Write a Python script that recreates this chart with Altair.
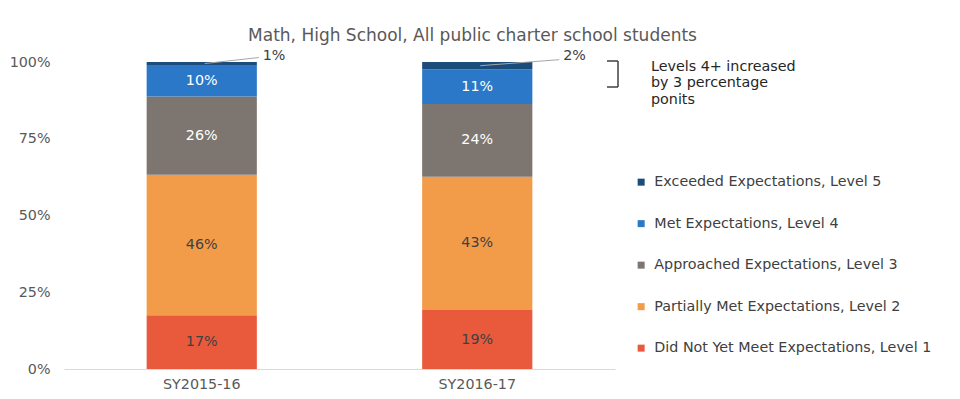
import altair as alt
import pandas as pd

years = ["SY2015-16", "SY2016-17"]
levels = [
    "Did Not Yet Meet Expectations, Level 1",
    "Partially Met Expectations, Level 2",
    "Approached Expectations, Level 3",
    "Met Expectations, Level 4",
    "Exceeded Expectations, Level 5",
]
colors = ["#E95A3D", "#F29C4A", "#7D7670", "#2A78C7", "#1C4C7C"]
label_colors = ["#404040", "#404040", "#FFFFFF", "#FFFFFF", "#404040"]
pct_2015 = [17.5, 45.8, 25.5, 10.2, 1.0]
pct_2016 = [19.2, 43.4, 23.7, 11.3, 2.4]
labels_2015 = ["17%", "46%", "26%", "10%", "1%"]
labels_2016 = ["19%", "43%", "24%", "11%", "2%"]
callout_dx = [61, 86]
title_text = "Math, High School, All public charter school students"
note_lines = ["Levels 4+ increased", "by 3 percentage", "ponits"]

rows = []
for year, pcts, labs in [(years[0], pct_2015, labels_2015), (years[1], pct_2016, labels_2016)]:
    for i, (lev, p, lab) in enumerate(zip(levels, pcts, labs)):
        rows.append({"year": year, "level": lev, "order": i + 1, "pct": p,
                     "label": lab, "tcolor": label_colors[i]})
df = pd.DataFrame(rows)

FONT = "DejaVu Sans"
FS = 14.3

base = alt.Chart(df).transform_stack(
    stack="pct", groupby=["year"], sort=[alt.SortField("order", order="ascending")],
    as_=["y0", "y1"]
).transform_calculate(mid="(datum.y0 + datum.y1) / 2")

x_enc = alt.X("year:N", sort=years, title=None,
              scale=alt.Scale(paddingInner=0.6, paddingOuter=0.3),
              axis=alt.Axis(labelAngle=0, ticks=False, domainColor="#D9D9D9",
                            labelFont=FONT, labelFontSize=FS, labelColor="#595959",
                            labelPadding=8))
y_scale = alt.Scale(domain=[0, 100], nice=False, zero=True)

bars = base.mark_bar().encode(
    x=x_enc,
    y=alt.Y("y0:Q", scale=y_scale, title=None,
            axis=alt.Axis(values=[0, 25, 50, 75, 100], labelExpr="datum.value + '%'",
                          grid=False, domain=False, ticks=False, labelFont=FONT,
                          labelFontSize=FS, labelColor="#595959", labelPadding=14)),
    y2="y1:Q",
    color=alt.Color("level:N", sort=levels,
                    scale=alt.Scale(domain=levels, range=colors),
                    legend=alt.Legend(title=None, orient="none", legendX=570, legendY=113,
                                      direction="vertical", symbolType="square",
                                      symbolSize=49, symbolStrokeWidth=0,
                                      labelFont=FONT, labelFontSize=FS,
                                      labelColor="#404040", labelOffset=6,
                                      rowPadding=26.5, padding=0, labelLimit=400,
                                      values=levels[::-1])),
    order=alt.Order("order:Q"),
)

inner = base.transform_filter("datum.order <= 4").mark_text(
    font=FONT, fontSize=FS
).encode(
    x=alt.X("year:N", sort=years),
    y=alt.Y("mid:Q"),
    text="label:N",
    color=alt.Color("tcolor:N", scale=None),
)

layers = [bars, inner]
for year, dx in zip(years, callout_dx):
    top = base.transform_filter(f"datum.order == 5 && datum.year == '{year}'")
    layers.append(top.mark_rule(color="#A6A6A6", strokeWidth=1, xOffset=3,
                                x2Offset=dx - 4, y2Offset=-6).encode(
        x=alt.X("year:N", sort=years), x2="year:N", y="mid:Q", y2="mid:Q"))
    layers.append(top.mark_text(font=FONT, fontSize=FS, color="#404040", align="left",
                                dx=dx, dy=-6).encode(
        x=alt.X("year:N", sort=years), y="y1:Q", text="label:N"))

ann = alt.Chart(pd.DataFrame({"a": [0]}))
title = ann.mark_text(font=FONT, fontSize=17, color="#595959", baseline="alphabetic").encode(
    x=alt.value(408.5), y=alt.value(-21), text=alt.value(title_text))
br_v = ann.mark_rule(color="#404040", strokeWidth=1.5).encode(
    x=alt.value(554), y=alt.value(-1), y2=alt.value(25))
br_t1 = ann.mark_rule(color="#404040", strokeWidth=1.5).encode(
    x=alt.value(543), x2=alt.value(554), y=alt.value(-1))
br_t2 = ann.mark_rule(color="#404040", strokeWidth=1.5).encode(
    x=alt.value(543), x2=alt.value(554), y=alt.value(25))
note = ann.mark_text(font=FONT, fontSize=FS, color="#262626", align="left",
                     baseline="top", lineHeight=16.5).encode(
    x=alt.value(587), y=alt.value(-2.5), text=alt.value(note_lines))

chart = alt.layer(*layers, title, br_v, br_t1, br_t2, note).properties(
    width=551, height=307,
    autosize=alt.AutoSizeParams(type="none"),
    padding={"left": 56, "top": 54, "right": 337, "bottom": 22},
).configure_view(stroke=None)

chart.save("out.html", embed_options={"renderer": "svg", "actions": False})
